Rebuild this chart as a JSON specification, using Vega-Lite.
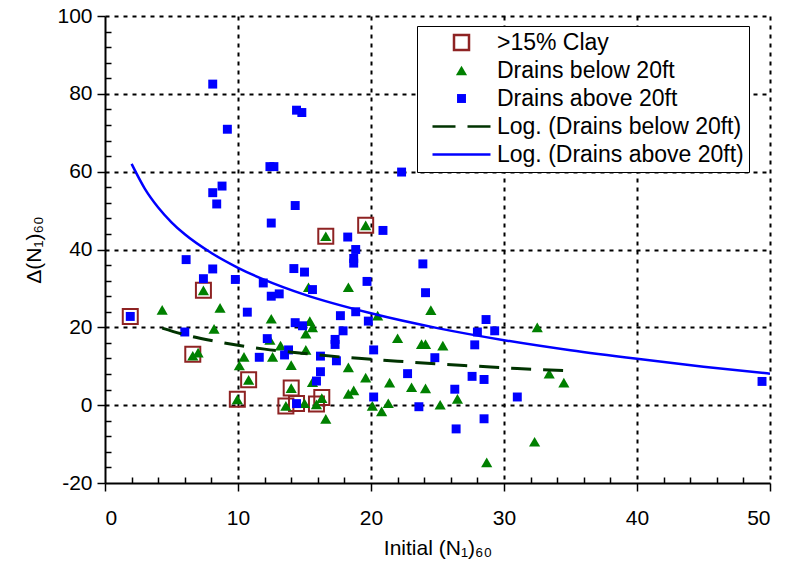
{
  "$schema": "https://vega.github.io/schema/vega-lite/v6.json",
  "autosize": "none",
  "width": 665,
  "height": 467,
  "padding": {"left": 105, "top": 16, "right": 16, "bottom": 86},
  "background": "white",
  "config": {
    "view": {"stroke": null},
    "font": "Liberation Sans",
    "axis": {
      "domainColor": "black", "domainWidth": 2, "tickColor": "black", "tickWidth": 1.5,
      "labelColor": "black", "labelFont": "Liberation Sans", "labelFontSize": 21,
      "titleColor": "black", "titleFont": "Liberation Sans", "titleFontSize": 21, "titleFontWeight": "normal",
      "gridColor": "black", "gridDash": [4, 5], "gridWidth": 2
    }
  },
  "datasets": {
    "pts": [
      {"x": 1.9, "y": 22.8, "s": ">15% Clay"},
      {"x": 7.4, "y": 29.5, "s": ">15% Clay"},
      {"x": 6.6, "y": 13.1, "s": ">15% Clay"},
      {"x": 10.8, "y": 6.5, "s": ">15% Clay"},
      {"x": 9.95, "y": 1.5, "s": ">15% Clay"},
      {"x": 14.0, "y": 4.4, "s": ">15% Clay"},
      {"x": 13.6, "y": -0.2, "s": ">15% Clay"},
      {"x": 14.4, "y": 0.4, "s": ">15% Clay"},
      {"x": 16.3, "y": 2.0, "s": ">15% Clay"},
      {"x": 15.9, "y": 0.3, "s": ">15% Clay"},
      {"x": 16.6, "y": 43.4, "s": ">15% Clay"},
      {"x": 19.6, "y": 46.2, "s": ">15% Clay"},
      {"x": 4.3, "y": 24.5, "s": "Drains below 20ft"},
      {"x": 7.4, "y": 29.5, "s": "Drains below 20ft"},
      {"x": 8.65, "y": 25.0, "s": "Drains below 20ft"},
      {"x": 12.5, "y": 22.2, "s": "Drains below 20ft"},
      {"x": 8.2, "y": 19.6, "s": "Drains below 20ft"},
      {"x": 12.4, "y": 16.8, "s": "Drains below 20ft"},
      {"x": 13.2, "y": 15.3, "s": "Drains below 20ft"},
      {"x": 6.6, "y": 12.7, "s": "Drains below 20ft"},
      {"x": 7.0, "y": 13.5, "s": "Drains below 20ft"},
      {"x": 10.45, "y": 12.4, "s": "Drains below 20ft"},
      {"x": 12.6, "y": 12.4, "s": "Drains below 20ft"},
      {"x": 10.1, "y": 10.2, "s": "Drains below 20ft"},
      {"x": 14.0, "y": 10.3, "s": "Drains below 20ft"},
      {"x": 10.8, "y": 6.5, "s": "Drains below 20ft"},
      {"x": 14.0, "y": 4.4, "s": "Drains below 20ft"},
      {"x": 9.95, "y": 1.5, "s": "Drains below 20ft"},
      {"x": 13.6, "y": -0.2, "s": "Drains below 20ft"},
      {"x": 19.6, "y": 46.2, "s": "Drains below 20ft"},
      {"x": 16.6, "y": 43.4, "s": "Drains below 20ft"},
      {"x": 15.3, "y": 30.3, "s": "Drains below 20ft"},
      {"x": 18.3, "y": 30.3, "s": "Drains below 20ft"},
      {"x": 24.5, "y": 24.4, "s": "Drains below 20ft"},
      {"x": 20.5, "y": 23.0, "s": "Drains below 20ft"},
      {"x": 15.4, "y": 21.6, "s": "Drains below 20ft"},
      {"x": 15.6, "y": 20.0, "s": "Drains below 20ft"},
      {"x": 15.1, "y": 18.4, "s": "Drains below 20ft"},
      {"x": 22.0, "y": 17.2, "s": "Drains below 20ft"},
      {"x": 23.8, "y": 15.7, "s": "Drains below 20ft"},
      {"x": 24.1, "y": 15.7, "s": "Drains below 20ft"},
      {"x": 25.4, "y": 15.3, "s": "Drains below 20ft"},
      {"x": 15.1, "y": 14.2, "s": "Drains below 20ft"},
      {"x": 18.3, "y": 9.7, "s": "Drains below 20ft"},
      {"x": 19.6, "y": 7.1, "s": "Drains below 20ft"},
      {"x": 21.4, "y": 5.8, "s": "Drains below 20ft"},
      {"x": 23.05, "y": 4.6, "s": "Drains below 20ft"},
      {"x": 24.1, "y": 4.3, "s": "Drains below 20ft"},
      {"x": 26.5, "y": 1.6, "s": "Drains below 20ft"},
      {"x": 18.3, "y": 2.9, "s": "Drains below 20ft"},
      {"x": 18.7, "y": 3.8, "s": "Drains below 20ft"},
      {"x": 15.6, "y": 5.9, "s": "Drains below 20ft"},
      {"x": 16.3, "y": 1.8, "s": "Drains below 20ft"},
      {"x": 15.9, "y": 0.2, "s": "Drains below 20ft"},
      {"x": 15.0, "y": 0.5, "s": "Drains below 20ft"},
      {"x": 16.6, "y": -3.5, "s": "Drains below 20ft"},
      {"x": 20.1, "y": -0.2, "s": "Drains below 20ft"},
      {"x": 20.8, "y": -1.6, "s": "Drains below 20ft"},
      {"x": 21.3, "y": 0.5, "s": "Drains below 20ft"},
      {"x": 25.2, "y": 0.1, "s": "Drains below 20ft"},
      {"x": 28.7, "y": -14.7, "s": "Drains below 20ft"},
      {"x": 32.5, "y": 20.0, "s": "Drains below 20ft"},
      {"x": 33.4, "y": 8.1, "s": "Drains below 20ft"},
      {"x": 34.5, "y": 5.8, "s": "Drains below 20ft"},
      {"x": 32.3, "y": -9.4, "s": "Drains below 20ft"},
      {"x": 1.9, "y": 22.8, "s": "Drains above 20ft"},
      {"x": 8.1, "y": 82.5, "s": "Drains above 20ft"},
      {"x": 9.2, "y": 70.9, "s": "Drains above 20ft"},
      {"x": 12.4, "y": 61.3, "s": "Drains above 20ft"},
      {"x": 12.7, "y": 61.3, "s": "Drains above 20ft"},
      {"x": 14.4, "y": 75.8, "s": "Drains above 20ft"},
      {"x": 14.8, "y": 75.2, "s": "Drains above 20ft"},
      {"x": 8.1, "y": 54.6, "s": "Drains above 20ft"},
      {"x": 8.8, "y": 56.3, "s": "Drains above 20ft"},
      {"x": 8.4, "y": 51.7, "s": "Drains above 20ft"},
      {"x": 14.3, "y": 51.3, "s": "Drains above 20ft"},
      {"x": 12.5, "y": 46.8, "s": "Drains above 20ft"},
      {"x": 6.1, "y": 37.4, "s": "Drains above 20ft"},
      {"x": 8.1, "y": 35.0, "s": "Drains above 20ft"},
      {"x": 7.4, "y": 32.5, "s": "Drains above 20ft"},
      {"x": 9.8, "y": 32.3, "s": "Drains above 20ft"},
      {"x": 11.9, "y": 31.4, "s": "Drains above 20ft"},
      {"x": 12.5, "y": 28.0, "s": "Drains above 20ft"},
      {"x": 13.1, "y": 28.6, "s": "Drains above 20ft"},
      {"x": 14.2, "y": 35.1, "s": "Drains above 20ft"},
      {"x": 15.0, "y": 34.2, "s": "Drains above 20ft"},
      {"x": 10.7, "y": 23.9, "s": "Drains above 20ft"},
      {"x": 14.3, "y": 21.2, "s": "Drains above 20ft"},
      {"x": 14.85, "y": 20.4, "s": "Drains above 20ft"},
      {"x": 6.0, "y": 18.8, "s": "Drains above 20ft"},
      {"x": 12.2, "y": 17.1, "s": "Drains above 20ft"},
      {"x": 13.8, "y": 14.2, "s": "Drains above 20ft"},
      {"x": 13.5, "y": 12.9, "s": "Drains above 20ft"},
      {"x": 11.6, "y": 12.3, "s": "Drains above 20ft"},
      {"x": 14.4, "y": 0.4, "s": "Drains above 20ft"},
      {"x": 22.3, "y": 59.9, "s": "Drains above 20ft"},
      {"x": 20.9, "y": 44.9, "s": "Drains above 20ft"},
      {"x": 18.25, "y": 43.2, "s": "Drains above 20ft"},
      {"x": 18.85, "y": 40.0, "s": "Drains above 20ft"},
      {"x": 18.7, "y": 37.7, "s": "Drains above 20ft"},
      {"x": 18.7, "y": 36.5, "s": "Drains above 20ft"},
      {"x": 23.9, "y": 36.3, "s": "Drains above 20ft"},
      {"x": 15.6, "y": 29.7, "s": "Drains above 20ft"},
      {"x": 19.7, "y": 31.8, "s": "Drains above 20ft"},
      {"x": 24.1, "y": 28.9, "s": "Drains above 20ft"},
      {"x": 17.7, "y": 23.0, "s": "Drains above 20ft"},
      {"x": 18.85, "y": 24.0, "s": "Drains above 20ft"},
      {"x": 19.8, "y": 21.6, "s": "Drains above 20ft"},
      {"x": 28.65, "y": 22.0, "s": "Drains above 20ft"},
      {"x": 17.9, "y": 19.1, "s": "Drains above 20ft"},
      {"x": 17.3, "y": 16.9, "s": "Drains above 20ft"},
      {"x": 17.3, "y": 15.6, "s": "Drains above 20ft"},
      {"x": 28.0, "y": 18.8, "s": "Drains above 20ft"},
      {"x": 27.8, "y": 15.5, "s": "Drains above 20ft"},
      {"x": 16.2, "y": 12.6, "s": "Drains above 20ft"},
      {"x": 17.4, "y": 11.4, "s": "Drains above 20ft"},
      {"x": 20.2, "y": 14.2, "s": "Drains above 20ft"},
      {"x": 24.8, "y": 12.2, "s": "Drains above 20ft"},
      {"x": 16.2, "y": 8.6, "s": "Drains above 20ft"},
      {"x": 15.9, "y": 6.2, "s": "Drains above 20ft"},
      {"x": 22.75, "y": 8.1, "s": "Drains above 20ft"},
      {"x": 27.6, "y": 7.4, "s": "Drains above 20ft"},
      {"x": 28.5, "y": 6.6, "s": "Drains above 20ft"},
      {"x": 26.3, "y": 4.1, "s": "Drains above 20ft"},
      {"x": 20.2, "y": 2.1, "s": "Drains above 20ft"},
      {"x": 23.6, "y": -0.4, "s": "Drains above 20ft"},
      {"x": 28.5, "y": -3.5, "s": "Drains above 20ft"},
      {"x": 26.4, "y": -6.1, "s": "Drains above 20ft"},
      {"x": 29.3, "y": 19.1, "s": "Drains above 20ft"},
      {"x": 31.0, "y": 2.1, "s": "Drains above 20ft"},
      {"x": 49.4, "y": 6.1, "s": "Drains above 20ft"}
    ],
    "blueLine": [
      {"x": 2, "y": 62}, {"x": 3, "y": 55.6}, {"x": 4, "y": 50.8}, {"x": 5, "y": 47}, {"x": 6, "y": 43.9},
      {"x": 8, "y": 39.1}, {"x": 10, "y": 35.3}, {"x": 12, "y": 32.2}, {"x": 15, "y": 28.4}, {"x": 20, "y": 23.6},
      {"x": 25, "y": 19.8}, {"x": 30, "y": 16.7}, {"x": 35, "y": 14.1}, {"x": 40, "y": 11.9}, {"x": 45, "y": 9.9}, {"x": 50, "y": 8.1}
    ],
    "greenLine": [
      {"x": 4.3, "y": 19.8}, {"x": 6, "y": 18.1}, {"x": 8, "y": 16.6}, {"x": 10, "y": 15.4}, {"x": 12, "y": 14.4},
      {"x": 15, "y": 13.3}, {"x": 18, "y": 12.3}, {"x": 20, "y": 11.8}, {"x": 22, "y": 11.3}, {"x": 25, "y": 10.6},
      {"x": 28, "y": 10.0}, {"x": 31, "y": 9.4}, {"x": 34.6, "y": 8.9}
    ]
  },
  "encoding": {
    "x": {
      "field": "x", "type": "quantitative",
      "scale": {"domain": [0, 50], "nice": false, "zero": false},
      "axis": {
        "title": "Initial (N₁)₆₀",
        "values": [0, 2, 4, 6, 8, 10, 12, 14, 16, 18, 20, 22, 24, 26, 28, 30, 32, 34, 36, 38, 40, 42, 44, 46, 48, 50],
        "labelExpr": "datum.value % 10 === 0 ? datum.label : ''",
        "tickSize": {"condition": {"test": "datum.value % 10 === 0", "value": 8}, "value": -6},
        "gridOpacity": {"condition": {"test": "datum.value % 10 === 0 && datum.value > 0", "value": 1}, "value": 0},
        "grid": true,
        "labelPadding": 16,
        "titlePadding": 9
      }
    },
    "y": {
      "field": "y", "type": "quantitative",
      "scale": {"domain": [-20, 100], "nice": false, "zero": false},
      "axis": {
        "title": "Δ(N₁)₆₀",
        "values": [-20, -16, -12, -8, -4, 0, 4, 8, 12, 16, 20, 24, 28, 32, 36, 40, 44, 48, 52, 56, 60, 64, 68, 72, 76, 80, 84, 88, 92, 96, 100],
        "labelExpr": "datum.value % 20 === 0 ? replace(datum.label, '−', '-') : ''",
        "tickSize": {"condition": {"test": "datum.value % 20 === 0", "value": 8}, "value": -6},
        "gridOpacity": {"condition": {"test": "datum.value % 20 === 0 && datum.value > -20", "value": 1}, "value": 0},
        "grid": true,
        "labelPadding": 5,
        "titlePadding": 12
      }
    }
  },
  "layer": [
    {
      "mark": {"type": "rule", "color": "black", "strokeWidth": 1.2},
      "encoding": {"y": {"datum": 0}, "x": {"datum": 0}, "x2": {"datum": 50}}
    },
    {
      "data": {"name": "pts"},
      "mark": {"type": "point", "strokeWidth": 2, "opacity": 1, "fillOpacity": 1, "strokeOpacity": 1},
      "encoding": {
        "shape": {
          "field": "s", "type": "nominal",
          "scale": {
            "domain": [">15% Clay", "Drains below 20ft", "Drains above 20ft", "Log. (Drains below 20ft)", "Log. (Drains above 20ft)"],
            "range": ["square", "triangle-up", "square", "M-5.8,0H-1.2M1.2,0H5.8", "M-5.8,0H5.8"]
          },
          "legend": {
            "title": null, "orient": "none", "legendX": 312, "legendY": 10,
            "labelFont": "Liberation Sans", "labelFontSize": 23, "labelColor": "black", "labelLimit": 0,
            "fillColor": "white", "strokeColor": "black", "padding": 5,
            "symbolOffset": 28, "labelOffset": 24, "rowPadding": 4, "symbolStrokeWidth": 2.5
          }
        },
        "fill": {
          "field": "s", "type": "nominal",
          "scale": {
            "domain": [">15% Clay", "Drains below 20ft", "Drains above 20ft", "Log. (Drains below 20ft)", "Log. (Drains above 20ft)"],
            "range": ["transparent", "#008000", "#0000FF", "transparent", "transparent"]
          }
        },
        "stroke": {
          "field": "s", "type": "nominal",
          "scale": {
            "domain": [">15% Clay", "Drains below 20ft", "Drains above 20ft", "Log. (Drains below 20ft)", "Log. (Drains above 20ft)"],
            "range": ["#8E2323", "transparent", "transparent", "#003300", "#0000FF"]
          }
        },
        "size": {
          "field": "s", "type": "nominal",
          "scale": {
            "type": "ordinal",
            "domain": [">15% Clay", "Drains below 20ft", "Drains above 20ft", "Log. (Drains below 20ft)", "Log. (Drains above 20ft)"],
            "range": [225, 125, 80, 100, 100]
          }
        }
      }
    },
    {
      "data": {"name": "greenLine"},
      "mark": {"type": "line", "color": "#003300", "strokeWidth": 3, "strokeDash": [20, 12], "interpolate": "monotone"}
    },
    {
      "data": {"name": "blueLine"},
      "mark": {"type": "line", "color": "#0000FF", "strokeWidth": 2.5, "interpolate": "monotone"}
    }
  ]
}
